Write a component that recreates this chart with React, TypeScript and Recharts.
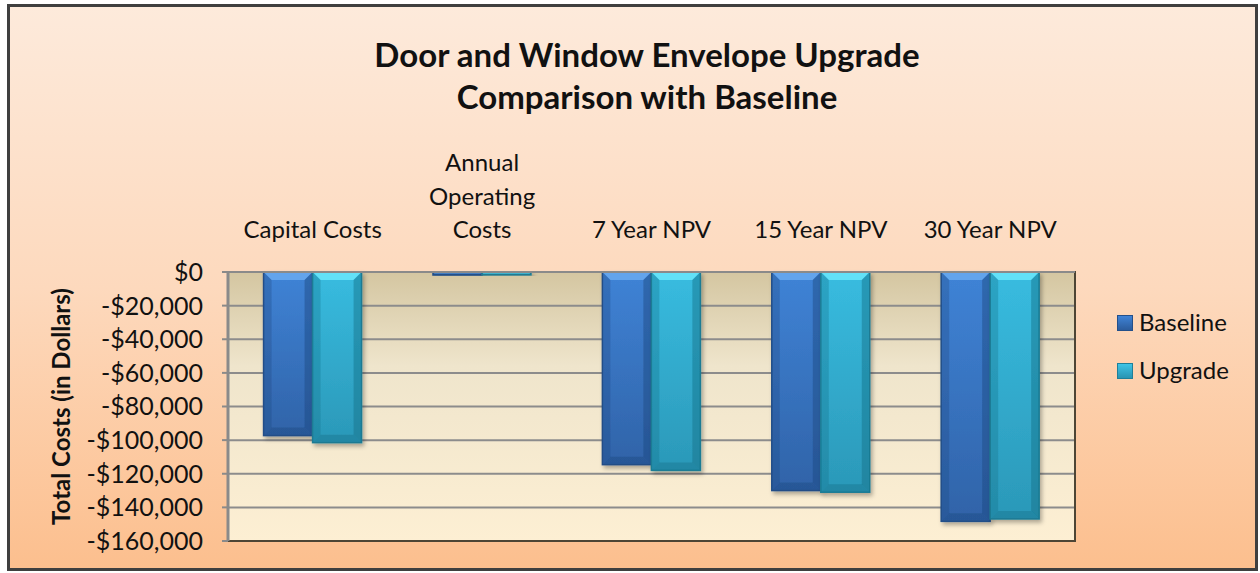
import { BarChart, Bar, XAxis, YAxis, CartesianGrid, ReferenceArea } from "recharts";

const categories = ["Capital Costs", "Annual Operating Costs", "7 Year NPV", "15 Year NPV", "30 Year NPV"];
const baseline = [-97300, -1800, -114600, -130000, -148300];
const upgrade = [-101500, -1700, -118000, -131000, -146900];
const yTicks = [0, -20000, -40000, -60000, -80000, -100000, -120000, -140000, -160000];

const data = categories.map((name, i) => ({ name, Baseline: baseline[i], Upgrade: upgrade[i] }));

const FONT = "Lato, 'Open Sans', sans-serif";

const fmt = (v: number) => (v < 0 ? "-$" : "$") + Math.abs(v).toLocaleString("en-US");

function CategoryTick(props: any) {
  const { x, y, payload } = props;
  const text: string = payload.value;
  const lines = text.length > 16 ? text.split(" ") : [text];
  const lh = 33.5;
  const last = y - 26;
  return (
    <text x={x} textAnchor="middle" fontFamily={FONT} fontSize={24} fill="#111">
      {lines.map((l, i) => (
        <tspan key={i} x={x} y={last - (lines.length - 1 - i) * lh}>
          {l}
        </tspan>
      ))}
    </text>
  );
}

function makeBevel(body: string, light: string, dark: string, edge: string) {
  return (props: any) => {
    const { x, y, width, height } = props;
    const top = Math.min(y, y + height);
    const h = Math.abs(height);
    const b = Math.min(8, h / 2);
    const r = x + width;
    const bt = top + h;
    return (
      <g filter="url(#barShadow)">
        <rect x={x} y={top} width={width} height={h} fill={`url(#${body})`} stroke={edge} strokeWidth={1.5} />
        <polygon points={`${x},${top} ${r},${top} ${r - b},${top + b} ${x + b},${top + b}`} fill={light} opacity={0.85} />
        <polygon points={`${x},${top} ${x + b},${top + b} ${x + b},${bt - b} ${x},${bt}`} fill={dark} opacity={0.3} />
        <polygon points={`${r},${top} ${r - b},${top + b} ${r - b},${bt - b} ${r},${bt}`} fill={dark} opacity={0.45} />
        <polygon points={`${x},${bt} ${x + b},${bt - b} ${r - b},${bt - b} ${r},${bt}`} fill={dark} opacity={0.4} />
      </g>
    );
  };
}

const BaselineShape = makeBevel("gBase", "#6aaaf0", "#1d477e", "#24508a");
const UpgradeShape = makeBevel("gUp", "#6ae8fb", "#156e86", "#1f7f98");

function LegendSwatch({ from, to, edge }: { from: string; to: string; edge: string }) {
  return (
    <span
      style={{
        display: "inline-block",
        width: 14,
        height: 14,
        background: `linear-gradient(to bottom, ${from}, ${to})`,
        border: `1px solid ${edge}`,
        marginRight: 6,
        verticalAlign: "middle",
        position: "relative",
        top: -2,
      }}
    />
  );
}

export default function App() {
  return (
    <div style={{ position: "absolute", left: 0, top: 0, width: 1260, height: 573 }}>
      <div
        style={{
          position: "absolute",
          left: 7,
          top: 4,
          width: 1245,
          height: 561,
          border: "3px solid #3f3f3f",
          background: "linear-gradient(to bottom, #fdeadb 0%, #fdd9bd 50%, #fcbf8e 100%)",
        }}
      />
      <div
        style={{
          position: "absolute",
          left: 647,
          top: 33,
          transform: "translateX(-50%)",
          textAlign: "center",
          fontFamily: FONT,
          fontWeight: 700,
          fontSize: 33,
          lineHeight: "42px",
          color: "#111",
          whiteSpace: "nowrap",
        }}
      >
        Door and Window Envelope Upgrade
        <br />
        Comparison with Baseline
      </div>
      <div style={{ position: "absolute", left: 0, top: 0 }}>
        <BarChart
          width={1260}
          height={573}
          data={data}
          margin={{ top: 0, right: 185, bottom: 32, left: 0 }}
          barCategoryGap="21%"
          barGap={0}
        >
          <defs>
            <linearGradient id="plotBg" x1="0" y1="0" x2="0" y2="1">
              <stop offset="0%" stopColor="#d4c6a1" />
              <stop offset="35%" stopColor="#efe5cc" />
              <stop offset="100%" stopColor="#fdefd3" />
            </linearGradient>
            <linearGradient id="gBase" x1="0" y1="0" x2="0" y2="1">
              <stop offset="0%" stopColor="#3f83d6" />
              <stop offset="100%" stopColor="#3063a8" />
            </linearGradient>
            <linearGradient id="gUp" x1="0" y1="0" x2="0" y2="1">
              <stop offset="0%" stopColor="#38bce0" />
              <stop offset="100%" stopColor="#2b98b8" />
            </linearGradient>
            <filter id="barShadow" x="-20%" y="-20%" width="140%" height="140%">
              <feDropShadow dx="2" dy="3" stdDeviation="2" floodColor="#000" floodOpacity="0.3" />
            </filter>
          </defs>
          <CartesianGrid vertical={false} stroke="#8c8c8c" strokeWidth={2} fill="url(#plotBg)" />
          <ReferenceArea y1={-160000} y2={0} fill="none" stroke="#4d4535" strokeWidth={2} />
          <XAxis
            dataKey="name"
            orientation="top"
            height={272}
            tickLine={false}
            axisLine={{ stroke: "#8a8a8a", strokeWidth: 2 }}
            tick={<CategoryTick />}
            interval={0}
          />
          <YAxis
            width={228}
            domain={[-160000, 0]}
            ticks={yTicks}
            interval={0}
            tickFormatter={fmt}
            tickSize={6}
            tickMargin={19}
            tickLine={{ stroke: "#8a8a8a", strokeWidth: 2 }}
            axisLine={{ stroke: "#8a8a8a", strokeWidth: 3 }}
            tick={{ fontFamily: FONT, fontSize: 25, fill: "#111" }}
            label={(p: any) => {
              const vb = p.viewBox || {};
              const cy = (vb.y ?? 272) + (vb.height ?? 269) / 2;
              return (
                <text
                  transform={`translate(60, ${cy}) rotate(-90)`}
                  textAnchor="middle"
                  dominantBaseline="central"
                  fontFamily={FONT}
                  fontWeight={700}
                  fontSize={24}
                  fill="#111"
                >
                  Total Costs (in Dollars)
                </text>
              );
            }}
          />
          <Bar dataKey="Baseline" shape={<BaselineShape />} isAnimationActive={false} />
          <Bar dataKey="Upgrade" shape={<UpgradeShape />} isAnimationActive={false} />
        </BarChart>
      </div>
      <div
        style={{
          position: "absolute",
          left: 1117,
          top: 298,
          fontFamily: FONT,
          fontSize: 24,
          color: "#111",
          lineHeight: "48px",
        }}
      >
        <div>
          <LegendSwatch from="#3f83d6" to="#2c5c9c" edge="#24508a" />
          Baseline
        </div>
        <div>
          <LegendSwatch from="#3fc4e6" to="#2894b2" edge="#1f7f98" />
          Upgrade
        </div>
      </div>
    </div>
  );
}
